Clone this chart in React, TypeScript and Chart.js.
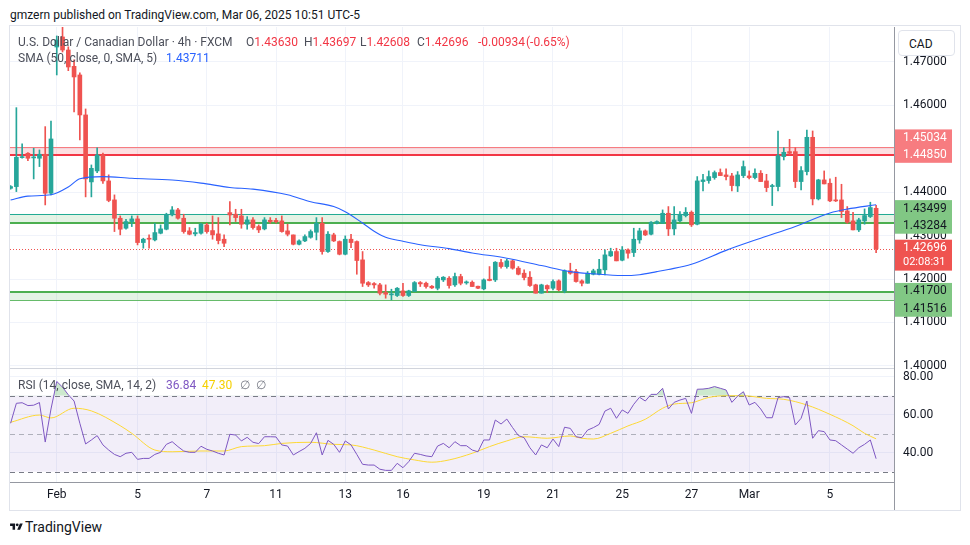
import React, { useEffect, useRef } from "react";
import { Chart, registerables } from "chart.js";

Chart.register(...registerables);

// ---- Data (USD/CAD 4h, FXCM) ----
const openPrices = [
  1.44090, 1.44129, 1.44797, 1.44897, 1.44790, 1.44782, 1.44874, 1.43976, 1.47345, 1.47576,
  1.47276, 1.46900, 1.46701, 1.45780, 1.44237, 1.44490, 1.44859, 1.44260, 1.43823, 1.43400,
  1.43170, 1.43323, 1.43385, 1.42840, 1.42932, 1.42901, 1.43055, 1.43147, 1.43477, 1.43592,
  1.43400, 1.43109, 1.43040, 1.43055, 1.43247, 1.43116, 1.43040, 1.42917, 1.43530, 1.43493,
  1.43454, 1.43262, 1.43362, 1.43209, 1.43155, 1.43354, 1.43350, 1.43339, 1.43109, 1.43016,
  1.42801, 1.42878, 1.42962, 1.43078, 1.43285, 1.42633, 1.43016, 1.42863, 1.42571, 1.42917,
  1.42863, 1.42441, 1.41918, 1.41895, 1.41865, 1.41688, 1.41635, 1.41620, 1.41727, 1.41620,
  1.41712, 1.41918, 1.41903, 1.41834, 1.41788, 1.41980, 1.42018, 1.41865, 1.42057, 1.41911,
  1.41926, 1.41834, 1.41773, 1.41995, 1.41980, 1.42380, 1.42287, 1.42418, 1.42249, 1.42134,
  1.42041, 1.41865, 1.41673, 1.41850, 1.41788, 1.41957, 1.41727, 1.42188, 1.42172, 1.41957,
  1.41903, 1.42110, 1.42110, 1.42211, 1.42533, 1.42633, 1.42433, 1.42671, 1.42610, 1.42901,
  1.43109, 1.43032, 1.43277, 1.43285, 1.43515, 1.43155, 1.43339, 1.43461, 1.43538, 1.43262,
  1.44245, 1.44268, 1.44337, 1.44452, 1.44398, 1.44375, 1.44145, 1.44383, 1.44375, 1.44337,
  1.44436, 1.44260, 1.44130, 1.44130, 1.44820, 1.44935, 1.44935, 1.44245, 1.44475, 1.45265,
  1.43846, 1.44283, 1.44206, 1.43822, 1.43822, 1.43569, 1.43339, 1.43132, 1.43339, 1.43439,
  1.43630,
];
const highPrices = [
  1.44150, 1.45948, 1.45112, 1.44912, 1.45012, 1.44974, 1.45511, 1.45641, 1.47600, 1.47806,
  1.47350, 1.47050, 1.46750, 1.45918, 1.44628, 1.45020, 1.44900, 1.44400, 1.43938, 1.43454,
  1.43377, 1.43454, 1.43454, 1.42940, 1.43017, 1.43285, 1.43247, 1.43516, 1.43669, 1.43631,
  1.43492, 1.43185, 1.43170, 1.43285, 1.43285, 1.43454, 1.43415, 1.43016, 1.43784, 1.43607,
  1.43607, 1.43438, 1.43415, 1.43247, 1.43415, 1.43415, 1.43400, 1.43454, 1.43262, 1.43016,
  1.42901, 1.43016, 1.43132, 1.43415, 1.43415, 1.43093, 1.43055, 1.42878, 1.42994, 1.43032,
  1.42878, 1.42633, 1.41942, 1.41918, 1.41903, 1.41865, 1.41765, 1.41804, 1.41903, 1.41742,
  1.41942, 1.41942, 1.41927, 1.41850, 1.42057, 1.42057, 1.42057, 1.42134, 1.42110, 1.41957,
  1.41957, 1.41840, 1.42003, 1.42287, 1.42402, 1.42456, 1.42456, 1.42441, 1.42287, 1.42211,
  1.42172, 1.41881, 1.41881, 1.41865, 1.41980, 1.41980, 1.42211, 1.42364, 1.42226, 1.41980,
  1.42172, 1.42226, 1.42456, 1.42671, 1.42709, 1.42709, 1.42748, 1.42694, 1.43170, 1.43170,
  1.43132, 1.43324, 1.43340, 1.43592, 1.43669, 1.43669, 1.43554, 1.43646, 1.43569, 1.44360,
  1.44413, 1.44490, 1.44490, 1.44536, 1.44536, 1.44436, 1.44475, 1.44720, 1.44490, 1.44536,
  1.44498, 1.44413, 1.44183, 1.45411, 1.45027, 1.45219, 1.45027, 1.44590, 1.45434, 1.45411,
  1.44298, 1.44490, 1.44306, 1.44345, 1.44183, 1.43669, 1.43538, 1.43400, 1.43615, 1.43769,
  1.43697,
];
const lowPrices = [
  1.44070, 1.44014, 1.44782, 1.44728, 1.44306, 1.44590, 1.43707, 1.43937, 1.46701, 1.47230,
  1.46800, 1.45849, 1.45204, 1.43892, 1.43892, 1.44450, 1.44200, 1.43780, 1.43093, 1.43017,
  1.43147, 1.43208, 1.42786, 1.42710, 1.42710, 1.42878, 1.43040, 1.43132, 1.43454, 1.43377,
  1.43055, 1.43017, 1.42994, 1.43032, 1.43055, 1.42917, 1.42809, 1.42748, 1.43247, 1.43324,
  1.43170, 1.43147, 1.43147, 1.43070, 1.43132, 1.43285, 1.43290, 1.43078, 1.42993, 1.42786,
  1.42786, 1.42863, 1.42940, 1.42901, 1.42571, 1.42610, 1.42863, 1.42556, 1.42556, 1.42724,
  1.42110, 1.41827, 1.41827, 1.41788, 1.41635, 1.41558, 1.41519, 1.41597, 1.41597, 1.41597,
  1.41712, 1.41827, 1.41788, 1.41780, 1.41750, 1.41942, 1.41788, 1.41827, 1.41865, 1.41880,
  1.41827, 1.41780, 1.41750, 1.41957, 1.41942, 1.42249, 1.42249, 1.42226, 1.42095, 1.41980,
  1.41827, 1.41673, 1.41673, 1.41688, 1.41750, 1.41727, 1.41681, 1.42110, 1.41927, 1.41842,
  1.41903, 1.42095, 1.42095, 1.42095, 1.42518, 1.42418, 1.42418, 1.42479, 1.42518, 1.42824,
  1.43001, 1.43016, 1.43270, 1.43285, 1.43001, 1.43016, 1.43324, 1.43430, 1.43209, 1.43247,
  1.44030, 1.44206, 1.44298, 1.44383, 1.44283, 1.44030, 1.44014, 1.44337, 1.44306, 1.44306,
  1.44245, 1.44014, 1.43692, 1.44030, 1.44743, 1.44858, 1.44106, 1.44053, 1.44398, 1.43707,
  1.43822, 1.44191, 1.43784, 1.43784, 1.43415, 1.43285, 1.43132, 1.43093, 1.43262, 1.43416,
  1.42608,
];
const closePrices = [
  1.44130, 1.44805, 1.44820, 1.44782, 1.44800, 1.44874, 1.43976, 1.45227, 1.47507, 1.47276,
  1.46885, 1.46655, 1.45780, 1.44306, 1.44550, 1.44859, 1.44260, 1.43810, 1.43400, 1.43147,
  1.43324, 1.43385, 1.42840, 1.42917, 1.42917, 1.43070, 1.43155, 1.43492, 1.43592, 1.43400,
  1.43093, 1.43032, 1.43070, 1.43262, 1.43093, 1.43017, 1.42886, 1.42824, 1.43477, 1.43415,
  1.43262, 1.43362, 1.43185, 1.43132, 1.43362, 1.43323, 1.43320, 1.43093, 1.43032, 1.42801,
  1.42878, 1.42978, 1.43093, 1.43285, 1.42633, 1.43032, 1.42878, 1.42571, 1.42917, 1.42840,
  1.42426, 1.41903, 1.41865, 1.41865, 1.41673, 1.41650, 1.41650, 1.41788, 1.41620, 1.41727,
  1.41918, 1.41888, 1.41827, 1.41796, 1.42018, 1.42041, 1.41850, 1.42057, 1.41903, 1.41926,
  1.41827, 1.41788, 1.41980, 1.41965, 1.42387, 1.42287, 1.42418, 1.42249, 1.42110, 1.42034,
  1.41850, 1.41673, 1.41865, 1.41773, 1.41942, 1.41750, 1.42188, 1.42134, 1.41942, 1.41903,
  1.42134, 1.42188, 1.42226, 1.42556, 1.42633, 1.42418, 1.42671, 1.42594, 1.42917, 1.43109,
  1.43016, 1.43308, 1.43324, 1.43515, 1.43155, 1.43362, 1.43492, 1.43538, 1.43247, 1.44260,
  1.44283, 1.44360, 1.44452, 1.44383, 1.44360, 1.44153, 1.44398, 1.44590, 1.44337, 1.44436,
  1.44245, 1.44106, 1.44153, 1.44843, 1.44920, 1.44897, 1.44245, 1.44498, 1.45265, 1.43846,
  1.44283, 1.44191, 1.43800, 1.43800, 1.43554, 1.43308, 1.43132, 1.43362, 1.43462, 1.43646,
  1.42696,
];

// SMA(50) line at these bar indices
const smaBarIndex = [0, 3, 7, 10, 12, 16, 21, 28, 33, 38, 42, 48, 52, 56, 58, 61, 63, 65, 68, 71, 76, 80, 86, 92, 97, 101, 106, 109, 112, 114, 118, 124, 130, 136, 142, 145, 150];
const smaValues = [1.4382, 1.4391, 1.4394, 1.4412, 1.4431, 1.4436, 1.4432, 1.4428, 1.4421, 1.4411, 1.4407, 1.4394, 1.4378, 1.4367, 1.4355, 1.4329, 1.4310, 1.4296, 1.4287, 1.4279, 1.4270, 1.4260, 1.4248, 1.4231, 1.4217, 1.4212, 1.4208, 1.4210, 1.4217, 1.4222, 1.4234, 1.4266, 1.4294, 1.4321, 1.4352, 1.4361, 1.43711];

// RSI(14) per bar
const rsiValues = [
  55.5, 66.0, 66.3, 64.8, 65.0, 66.4, 45.6, 63.0, 77.5, 74.5,
  70.5, 67.2, 55.5, 44.6, 46.7, 49.0, 44.1, 41.4, 39.1, 37.9,
  39.7, 40.2, 36.5, 37.0, 37.0, 39.1, 40.2, 44.4, 45.8, 43.2,
  40.9, 40.2, 40.2, 43.4, 41.8, 40.9, 39.7, 38.8, 49.7, 49.3,
  46.2, 48.1, 45.5, 44.8, 48.4, 48.4, 48.3, 44.1, 43.5, 38.8,
  40.6, 42.3, 44.9, 50.5, 38.8, 46.5, 44.4, 40.2, 46.2, 44.1,
  39.1, 33.9, 33.5, 33.5, 31.3, 30.7, 30.7, 34.4, 32.1, 35.3,
  39.7, 39.1, 38.3, 37.9, 43.5, 44.9, 42.6, 45.8, 43.7, 43.7,
  41.4, 40.5, 46.7, 46.7, 57.2, 55.1, 57.7, 53.2, 49.0, 47.9,
  42.6, 38.8, 44.1, 42.6, 47.2, 43.2, 53.4, 52.8, 48.4, 47.9,
  51.9, 53.2, 54.9, 61.9, 63.4, 58.1, 62.5, 60.7, 65.5, 69.2,
  67.2, 70.7, 70.7, 73.9, 63.0, 66.5, 67.7, 68.6, 60.7, 73.4,
  73.5, 73.9, 74.8, 73.9, 73.0, 66.5, 69.8, 72.1, 65.1, 66.5,
  63.0, 58.4, 58.4, 69.0, 69.5, 69.0, 54.6, 58.1, 67.2, 47.6,
  51.6, 51.1, 46.7, 46.3, 44.1, 41.9, 39.7, 42.6, 44.4, 46.7,
  36.84,
];

// RSI-based MA at these bar indices
const rsiMaBarIndex = [0, 5, 7, 11, 14, 19, 21, 25, 28, 33, 37, 40, 44, 47, 52, 56, 59, 63, 67, 70, 73, 76, 80, 83, 86, 89, 93, 97, 99, 101, 104, 107, 110, 113, 115, 118, 121, 124, 127, 131, 134, 138, 142, 146, 148, 150];
const rsiMaValues = [56.0, 59.8, 58.3, 63.4, 62.0, 54.2, 50.2, 41.4, 40.5, 40.9, 40.9, 43.2, 43.7, 44.9, 45.5, 44.4, 44.1, 41.4, 37.9, 36.2, 35.0, 36.2, 39.7, 43.2, 46.2, 48.4, 47.6, 48.8, 47.6, 47.2, 50.2, 54.1, 57.6, 63.4, 65.6, 66.3, 69.1, 70.0, 70.0, 68.6, 68.1, 65.1, 60.2, 54.2, 50.2, 47.3];

// time axis
const timeTickIndex = [8, 22, 34, 46, 58, 68, 82, 94, 106, 118, 128, 142];
const timeTickText = ["Feb", "5", "7", "11", "13", "16", "19", "21", "25", "27", "Mar", "5"];
const priceTicks = [1.40, 1.41, 1.42, 1.43, 1.44, 1.45, 1.46, 1.47];
const rsiTicks = [40, 60, 80];

// horizontal zones
const resistanceZone = [1.45034, 1.44850];
const upperSupportZone = [1.43499, 1.43284];
const lowerSupportZone = [1.41700, 1.41516];
const lastPrice = 1.42696;
const barCountdown = "02:08:31";

const UP = "#26a69a";
const DOWN = "#ef5350";
const FONT = "Roboto, 'Noto Sans', sans-serif";

const overlayPlugin = {
  id: "tvOverlay",
  beforeDatasetsDraw(chart: any) {
    const { ctx, chartArea: ca } = chart;
    const y = chart.scales.y;
    const r = chart.scales.yR;
    const L = ca.left;
    const R = ca.right;
    const hline = (p: number, color: string, w: number, dash: number[] = []) => {
      ctx.beginPath();
      ctx.setLineDash(dash);
      ctx.strokeStyle = color;
      ctx.lineWidth = w;
      const yy = w % 2 === 1 ? Math.round(p) + 0.5 : Math.round(p);
      ctx.moveTo(L, yy);
      ctx.lineTo(R, yy);
      ctx.stroke();
      ctx.setLineDash([]);
    };
    ctx.save();
    // RSI band
    const r70 = r.getPixelForValue(70);
    const r50 = r.getPixelForValue(50);
    const r30 = r.getPixelForValue(30);
    ctx.fillStyle = "rgba(126,87,194,0.1)";
    ctx.fillRect(L, r70, R - L, r30 - r70);
    hline(r70, "#787b86", 1, [5, 4]);
    hline(r30, "#787b86", 1, [5, 4]);
    hline(r50, "rgba(120,123,134,0.55)", 1, [5, 4]);

    // zones
    const zones = [
      { v: resistanceZone, fill: "rgba(242,54,69,0.16)", tc: "#f77c80", tw: 1, bc: "#f23645", bw: 2 },
      { v: upperSupportZone, fill: "rgba(76,175,80,0.15)", tc: "#22ab94", tw: 1, bc: "#4caf50", bw: 2 },
      { v: lowerSupportZone, fill: "rgba(76,175,80,0.15)", tc: "#4caf50", tw: 2, bc: "#66bb6a", bw: 1 },
    ];
    zones.forEach((z) => {
      const t = y.getPixelForValue(z.v[0]);
      const b = y.getPixelForValue(z.v[1]);
      ctx.fillStyle = z.fill;
      ctx.fillRect(L, t, R - L, b - t);
      hline(t, z.tc, z.tw);
      hline(b, z.bc, z.bw);
    });
    // last price dotted
    hline(y.getPixelForValue(lastPrice), DOWN, 1, [1, 2]);
    ctx.restore();
  },
  afterDraw(chart: any) {
    const { ctx, chartArea: ca } = chart;
    const y = chart.scales.y;
    const r = chart.scales.yR;
    ctx.save();
    // pane separator
    ctx.strokeStyle = "#d1d4dc";
    ctx.lineWidth = 1;
    ctx.beginPath();
    ctx.moveTo(0, Math.round(r.top) + 0.5);
    ctx.lineTo(ca.right, Math.round(r.top) + 0.5);
    ctx.stroke();
    // axis borders
    ctx.strokeStyle = "#9598a1";
    ctx.beginPath();
    ctx.moveTo(Math.round(ca.right) + 0.5, 0);
    ctx.lineTo(Math.round(ca.right) + 0.5, chart.height);
    ctx.moveTo(0, Math.round(ca.bottom) + 0.5);
    ctx.lineTo(ca.right, Math.round(ca.bottom) + 0.5);
    ctx.stroke();

    // price-axis labels
    const bx = ca.right + 1;
    const bw = 57;
    const tx = ca.right + 9;
    const box = (l1: number, l2: number, bg: string, fg: string, t1: string, t2: string, small = false) => {
      const top = l1 - 8.5;
      const bottom = l2 + (small ? 8 : 7.5);
      ctx.fillStyle = bg;
      ctx.fillRect(bx, top, bw, bottom - top);
      ctx.fillStyle = fg;
      ctx.textBaseline = "middle";
      ctx.textAlign = "left";
      ctx.font = `12px ${FONT}`;
      ctx.fillText(t1, tx, l1);
      ctx.font = small ? `11px ${FONT}` : `12px ${FONT}`;
      ctx.fillText(t2, tx, l2);
    };
    const rb = y.getPixelForValue(resistanceZone[1]);
    box(rb - 17.4, rb, "#f77c80", "#ffffff", resistanceZone[0].toFixed(5), resistanceZone[1].toFixed(5));
    const gm = (y.getPixelForValue(upperSupportZone[0]) + y.getPixelForValue(upperSupportZone[1])) / 2;
    box(gm - 10, gm + 7.6, "#81c784", "#131722", upperSupportZone[0].toFixed(5), upperSupportZone[1].toFixed(5));
    const lp = y.getPixelForValue(lastPrice) - 0.6;
    box(lp, lp + 14.4, "#ef5350", "#ffffff", lastPrice.toFixed(5), barCountdown, true);
    const g2 = y.getPixelForValue(lowerSupportZone[0]) - 0.6;
    box(g2, g2 + 17.8, "#81c784", "#131722", lowerSupportZone[0].toFixed(5), lowerSupportZone[1].toFixed(5));
    ctx.restore();
  },
};

export default function App() {
  const canvasRef = useRef<HTMLCanvasElement | null>(null);

  useEffect(() => {
    const canvas = canvasRef.current;
    if (!canvas) return;
    const idx = closePrices.map((_, i) => i);
    const colors = idx.map((i) => (closePrices[i] >= openPrices[i] ? UP : DOWN));
    const zeroPad = (s: any) => {
      s.paddingTop = 0;
      s.paddingBottom = 0;
      s.paddingLeft = 0;
      s.paddingRight = 0;
    };
    const chart = new Chart(canvas, {
      type: "bar",
      data: {
        datasets: [
          {
            type: "line",
            label: "SMA",
            data: smaBarIndex.map((x, k) => ({ x, y: smaValues[k] })),
            yAxisID: "y",
            borderColor: "#2962ff",
            borderWidth: 1.1,
            pointRadius: 0,
            cubicInterpolationMode: "monotone",
            order: 0,
          },
          {
            type: "line",
            label: "RSI",
            data: idx.map((i) => ({ x: i, y: rsiValues[i] })),
            yAxisID: "yR",
            borderColor: "#7e57c2",
            borderWidth: 1,
            pointRadius: 0,
            tension: 0,
            fill: { target: { value: 70 }, above: "rgba(76,175,80,0.28)", below: "rgba(0,0,0,0)" },
            order: 0,
          },
          {
            type: "line",
            label: "RSI MA",
            data: rsiMaBarIndex.map((x, k) => ({ x, y: rsiMaValues[k] })),
            yAxisID: "yR",
            borderColor: "#fdd835",
            borderWidth: 1,
            pointRadius: 0,
            cubicInterpolationMode: "monotone",
            order: 1,
          },
          {
            type: "bar",
            label: "body",
            data: idx.map((i) => ({ x: i, y: [openPrices[i], closePrices[i]] })),
            backgroundColor: colors,
            borderWidth: 0,
            barThickness: 4,
            minBarLength: 1,
            grouped: false,
            yAxisID: "y",
            order: 2,
          },
          {
            type: "bar",
            label: "wick",
            data: idx.map((i) => ({ x: i, y: [lowPrices[i], highPrices[i]] })),
            backgroundColor: colors,
            borderWidth: 0,
            barThickness: 1,
            grouped: false,
            yAxisID: "y",
            order: 3,
          },
        ],
      } as any,
      options: {
        responsive: false,
        animation: false,
        layout: { padding: 0 },
        plugins: { legend: { display: false }, tooltip: { enabled: false } },
        scales: {
          x: {
            type: "linear",
            position: "bottom",
            min: -0.104,
            max: 153.1,
            offset: false,
            afterBuildTicks: (s: any) => {
              s.ticks = timeTickIndex.map((v) => ({ value: v }));
            },
            afterFit: (s: any) => {
              s.height = 28;
              zeroPad(s);
            },
            ticks: {
              autoSkip: false,
              maxRotation: 0,
              padding: 6,
              color: "#131722",
              font: { family: FONT, size: 12 },
              callback: (_v: any, i: number) => timeTickText[i],
            },
            grid: { color: "#f0f3fa", drawTicks: false, offset: false },
            border: { display: false },
          },
          y: {
            type: "linear",
            position: "right",
            stack: "panes",
            stackWeight: 341,
            min: 1.3995,
            max: 1.47806,
            afterBuildTicks: (s: any) => {
              s.ticks = priceTicks.map((v) => ({ value: v }));
            },
            afterFit: (s: any) => {
              s.width = 66;
              zeroPad(s);
            },
            ticks: {
              padding: 9,
              color: "#131722",
              font: { family: FONT, size: 12 },
              callback: (v: any) => Number(v).toFixed(5),
            },
            grid: { color: "#f0f3fa", drawTicks: false },
            border: { display: false },
          },
          yR: {
            type: "linear",
            position: "right",
            stack: "panes",
            stackWeight: 114,
            min: 24.58,
            max: 84.58,
            afterBuildTicks: (s: any) => {
              s.ticks = rsiTicks.map((v) => ({ value: v }));
            },
            afterFit: (s: any) => {
              s.width = 66;
              zeroPad(s);
            },
            ticks: {
              padding: 9,
              color: "#131722",
              font: { family: FONT, size: 12 },
              callback: (v: any) => Number(v).toFixed(2),
            },
            grid: { color: "#f0f3fa", drawTicks: false },
            border: { display: false },
          },
        },
      } as any,
      plugins: [overlayPlugin],
    });
    return () => chart.destroy();
  }, []);

  const base: React.CSSProperties = {
    position: "absolute",
    whiteSpace: "nowrap",
    fontFamily: FONT,
    lineHeight: "16px",
  };
  const legendGray = "#4c4f5a";
  const red = "#f23645";

  return (
    <div style={{ position: "absolute", left: 0, top: 0, width: 970, height: 545, background: "#ffffff", overflow: "hidden" }}>
      <div style={{ ...base, left: 10, top: 7, fontSize: 12, color: "#131722" }}>
        gmzern published on TradingView.com, Mar 06, 2025 10:51 UTC-5
      </div>
      <div style={{ position: "absolute", left: 9, top: 25, width: 950, height: 484, border: "1px solid #e0e3eb" }} />
      <canvas ref={canvasRef} width={950} height={483} style={{ position: "absolute", left: 10, top: 27, width: 950, height: 483 }} />

      {/* main legend */}
      <div style={{ ...base, left: 18, top: 34, fontSize: 12, color: legendGray }}>U.S. Dollar / Canadian Dollar · 4h · FXCM</div>
      <div style={{ ...base, left: 246, top: 34, fontSize: 12, color: legendGray }}>O<span style={{ color: red }}>1.43630</span></div>
      <div style={{ ...base, left: 304, top: 34, fontSize: 12, color: legendGray }}>H<span style={{ color: red }}>1.43697</span></div>
      <div style={{ ...base, left: 360, top: 34, fontSize: 12, color: legendGray }}>L<span style={{ color: red }}>1.42608</span></div>
      <div style={{ ...base, left: 417, top: 34, fontSize: 12, color: legendGray }}>C<span style={{ color: red }}>1.42696</span></div>
      <div style={{ ...base, left: 478, top: 34, fontSize: 12, color: red }}>-0.00934</div>
      <div style={{ ...base, left: 526, top: 34, fontSize: 12, color: red }}>(-0.65%)</div>
      <div style={{ ...base, left: 18, top: 50, fontSize: 12, color: legendGray }}>SMA (50, close, 0, SMA, 5)</div>
      <div style={{ ...base, left: 166, top: 50, fontSize: 12, color: "#2962ff" }}>1.43711</div>

      {/* RSI legend */}
      <div style={{ ...base, left: 18, top: 377, fontSize: 12, color: legendGray }}>RSI (14, close, SMA, 14, 2)</div>
      <div style={{ ...base, left: 166, top: 377, fontSize: 12, color: "#7e57c2" }}>36.84</div>
      <div style={{ ...base, left: 202, top: 377, fontSize: 12, color: "#f5d000" }}>47.30</div>
      <div style={{ ...base, left: 240, top: 377, fontSize: 12, color: "#787b86" }}>∅</div>
      <div style={{ ...base, left: 256, top: 377, fontSize: 12, color: "#787b86" }}>∅</div>

      {/* currency box */}
      <div style={{ position: "absolute", left: 898, top: 30, width: 57, height: 26, border: "1px solid #e0e3eb", borderRadius: 4, background: "#fff", fontFamily: FONT, fontSize: 12, lineHeight: "26px", color: "#131722", paddingLeft: 10, boxSizing: "border-box" }}>CAD</div>

      {/* footer logo */}
      <div style={{ position: "absolute", left: 10, top: 519, display: "flex", alignItems: "center", fontFamily: FONT, fontSize: 14, lineHeight: "16px", color: "#131722", fontWeight: 400 }}>
        <svg width="13" height="10" viewBox="0 0 36 28" style={{ marginRight: 2 }}>
          <path d="M14 22H7V11H0V4h14v18zM28 22h-8l7.5-18h8L28 22z" fill="#131722" />
          <circle cx="20" cy="8" r="4" fill="#131722" />
        </svg>
        TradingView
      </div>
    </div>
  );
}
